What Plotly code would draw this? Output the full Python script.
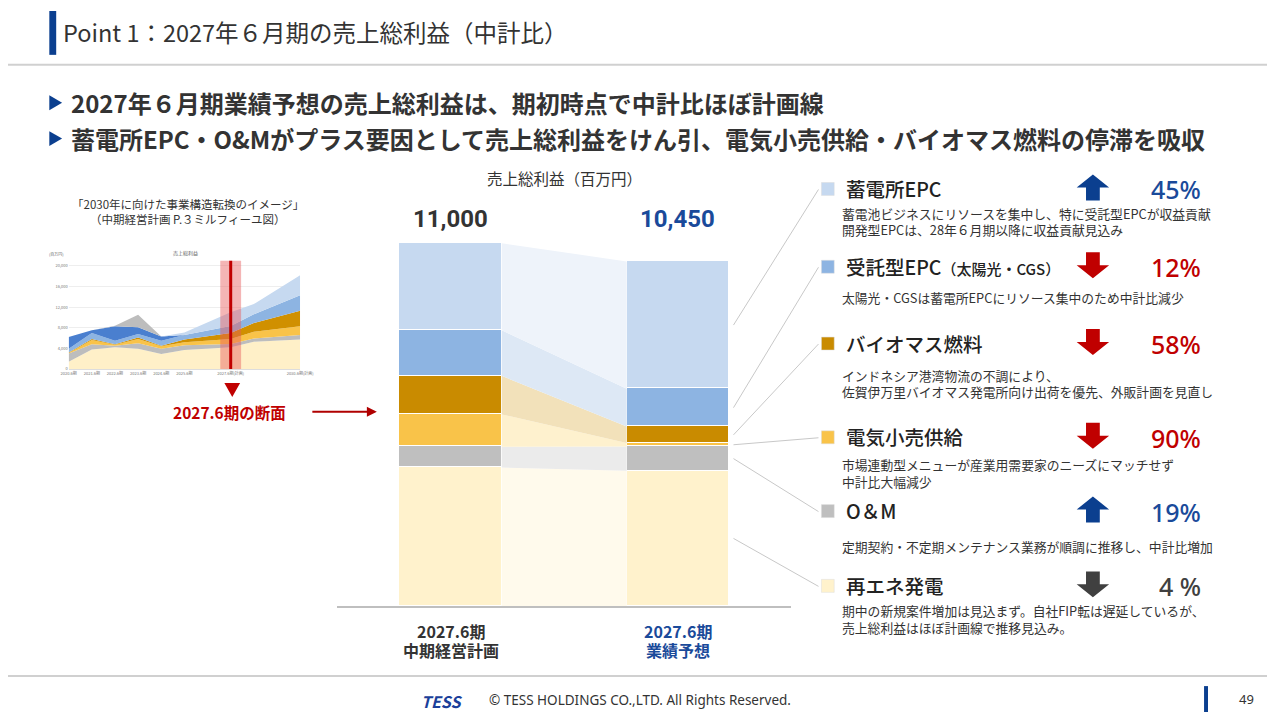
import plotly.graph_objects as go

W, H = 1280, 720
FONT = "Noto Sans CJK JP"
DARK = "#333333"
BLUE = "#1A4A9A"
RED = "#C00000"

# --- main chart data (百万円), stacked bottom -> top ---
segments = ["再エネ発電", "O&M", "電気小売供給", "バイオマス燃料", "受託型EPC", "蓄電所EPC"]
plan_2027 = [4200, 630, 980, 1170, 1380, 2640]
forecast_2027 = [4100, 740, 100, 500, 1150, 3860]
bar_colors = ["#FFF2CC", "#BFBFBF", "#F9C349", "#C98B00", "#8DB4E2", "#C6D9F0"]
ribbon_colors = ["#FFFAEC", "#EBEBEB", "#FEF1CE", "#F2E1BA", "#DDE8F5", "#EEF3FA"]
categories = ["2027.6期<br>中期経営計画", "2027.6期<br>業績予想"]
category_colors = [DARK, BLUE]

# --- right panel, top -> bottom ---
item_titles = ["蓄電所EPC", "受託型EPC<span style='font-size:15px'>（太陽光・CGS）</span>",
               "バイオマス燃料", "電気小売供給", "O＆M", "再エネ発電"]
item_desc = [
    ["蓄電池ビジネスにリソースを集中し、特に受託型EPCが収益貢献", "開発型EPCは、28年６月期以降に収益貢献見込み"],
    ["太陽光・CGSは蓄電所EPCにリソース集中のため中計比減少"],
    ["インドネシア港湾物流の不調により、", "佐賀伊万里バイオマス発電所向け出荷を優先、外販計画を見直し"],
    ["市場連動型メニューが産業用需要家のニーズにマッチせず", "中計比大幅減少"],
    ["定期契約・不定期メンテナンス業務が順調に推移し、中計比増加"],
    ["期中の新規案件増加は見込まず。自社FIP転は遅延しているが、", "売上総利益はほぼ計画線で推移見込み。"],
]
item_pct = ["45%", "12%", "58%", "90%", "19%", "4 %"]
item_dir = ["up", "down", "down", "down", "up", "flat"]

# --- mini chart (ミルフィーユ図) data (百万円) ---
mini_years = [2020, 2021, 2022, 2023, 2024, 2025, 2027, 2028, 2030]
mini_renew = [1400, 3800, 4200, 3900, 2900, 3700, 4200, 5300, 5700]
mini_om = [1600, 1000, 300, 1100, 1000, 900, 630, 600, 900]
mini_retail = [100, 800, 200, 800, 500, 600, 980, 1300, 1700]
mini_bio = [100, 200, 100, 300, 100, 500, 1170, 1700, 3000]
mini_contract = [700, 1200, 700, 700, 1000, 900, 1380, 1700, 3000]
mini_solar = [2300, 500, 2800, 1300, 800, 0, 0, 0, 0]
mini_storage = [0, 0, 0, 0, 0, 500, 2640, 2000, 3900]
mini_other = [0, 0, 100, 2400, 0, 0, 0, 0, 0]
mini_ticks = [2020, 2021, 2022, 2023, 2024, 2025, 2027, 2030]
mini_ticktext = ["2020.6期", "2021.6期", "2022.6期", "2023.6期", "2024.6期", "2025.6期",
                 "2027.6期(計画)", "2030.6期(計画)"]


def px(x):
    return x / W


def py(y):
    return 1 - y / H


def poly(pts):
    return "M " + " L ".join(f"{px(a):.5f},{py(b):.5f}" for a, b in pts) + " Z"


# main axes geometry
XR = (-0.5, 1.5)
YR = (0, 12000)
XD = (px(334.5), px(796.5))
YD = (py(607.7), py(210.9))
BW = 0.45


def xd2p(v):
    return XD[0] + (v - XR[0]) / (XR[1] - XR[0]) * (XD[1] - XD[0])


def yd2p(v):
    return YD[0] + (v - YR[0]) / (YR[1] - YR[0]) * (YD[1] - YD[0])


def stack(vals):
    out, s = [], 0
    for v in vals:
        out.append((s, s + v))
        s += v
    return out


fig = go.Figure()

plan_st = stack(plan_2027)
fc_st = stack(forecast_2027)

# ribbons between bars
for i, name in enumerate(segments):
    l0, l1 = plan_st[i]
    r0, r1 = fc_st[i]
    fig.add_trace(go.Scatter(
        x=[BW / 2, BW / 2, 1 - BW / 2, 1 - BW / 2, BW / 2],
        y=[l0, l1, r1, r0, l0],
        fill="toself", fillcolor=ribbon_colors[i], mode="lines",
        line=dict(width=0), hoverinfo="skip", showlegend=False,
    ))

for i, name in enumerate(segments):
    fig.add_trace(go.Bar(
        x=[0, 1], y=[plan_2027[i], forecast_2027[i]], width=BW, name=name,
        marker=dict(color=bar_colors[i], line=dict(color="white", width=1.5)),
        showlegend=False,
    ))

# mini stacked area chart
mini_series = [
    (mini_renew, "#FFF0C8"), (mini_om, "#BDBDBD"), (mini_retail, "#F9C349"),
    (mini_bio, "#D09000"), (mini_contract, "#8DB4E2"), (mini_solar, "#4A7FCF"),
    (mini_storage, "#C6D9F0"), (mini_other, "#BDBDBD"),
]
for vals, col in mini_series:
    fig.add_trace(go.Scatter(
        x=mini_years, y=vals, stackgroup="mini", mode="none", fillcolor=col,
        xaxis="x2", yaxis="y2", showlegend=False, hoverinfo="skip",
    ))

ann = []
shapes = []

# header
shapes.append(dict(type="rect", xref="paper", yref="paper", x0=px(42), x1=px(49), y0=py(55), y1=py(11),
                   fillcolor="#0B3F8F", line=dict(width=0)))
shapes.append(dict(type="line", xref="paper", yref="paper", x0=0, x1=1, y0=py(65), y1=py(65),
                   line=dict(color="#D0D0D0", width=2)))
ann.append(dict(x=px(54), y=py(32), text="Point 1：2027年６月期の売上総利益（中計比）",
                font=dict(size=23.5, color=DARK)))
bullets = ["2027年６月期業績予想の売上総利益は、期初時点で中計比ほぼ計画線",
           "蓄電所EPC・O&Mがプラス要因として売上総利益をけん引、電気小売供給・バイオマス燃料の停滞を吸収"]
for b, yy in zip(bullets, [103, 139]):
    shapes.append(dict(type="path", xref="paper", yref="paper",
                       path=poly([(42, yy - 7.5), (55, yy), (42, yy + 7.5)]),
                       fillcolor="#0B3F8F", line=dict(width=0)))
    ann.append(dict(x=px(62), y=py(yy), text="<b>" + b + "</b>", font=dict(size=24, color=DARK)))

# footer
shapes.append(dict(type="line", xref="paper", yref="paper", x0=0, x1=1, y0=py(678), y1=py(678),
                   line=dict(color="#D0D0D0", width=2)))
ann.append(dict(x=px(418), y=py(703), text="<b><i>TESS</i></b>", font=dict(size=16, color="#1B3F9A")))
ann.append(dict(x=px(487), y=py(702), text="© TESS HOLDINGS CO.,LTD. All Rights Reserved.",
                font=dict(size=13.5, color=DARK, family="Noto Sans")))
shapes.append(dict(type="rect", xref="paper", yref="paper", x0=px(1216), x1=px(1220), y0=py(714), y1=py(688),
                   fillcolor="#0B3F8F", line=dict(width=0)))
ann.append(dict(x=px(1250), y=py(701), text="49", font=dict(size=13, color=DARK, family="Noto Sans")))

# main chart texts
ann.append(dict(x=xd2p(0.5), y=py(178), text="売上総利益（百万円）", xanchor="center",
                font=dict(size=15.5, color=DARK)))
totals = [sum(plan_2027), sum(forecast_2027)]
for i, (t, c) in enumerate(zip(totals, category_colors)):
    ann.append(dict(x=xd2p(i), y=py(220), text=f"<b>{t:,}</b>", xanchor="center",
                    font=dict(size=24, color=c, family="Roboto")))
    for j, line in enumerate(categories[i].split("<br>")):
        ann.append(dict(x=xd2p(i), y=py(633 + 19 * j), text=f"<b>{line}</b>", xanchor="center",
                        font=dict(size=16, color=c)))

# right panel
item_y = [189, 267, 344, 438, 512, 587]
desc_y = [[214, 230.5], [298], [376.5, 393], [466, 482.5], [548], [612.5, 629]]
stack_order = list(range(len(segments)))[::-1]
for k, seg_i in enumerate(stack_order):
    yy = item_y[k]
    col = bar_colors[seg_i]
    shapes.append(dict(type="rect", xref="paper", yref="paper", x0=px(827), x1=px(840),
                       y0=py(yy + 7), y1=py(yy - 6), fillcolor=col, line=dict(color="#DDDDDD", width=0.5)))
    ann.append(dict(x=px(850), y=py(yy), text=item_titles[k],
                    font=dict(size=19.5, color="#222222", weight=500)))
    for line, ly in zip(item_desc[k], desc_y[k]):
        ann.append(dict(x=px(846), y=py(ly), text=line, font=dict(size=12.8, color=DARK)))
    d = item_dir[k]
    pct_col = BLUE if d == "up" else (RED if d == "down" else "#404040")
    ann.append(dict(x=px(1215), y=py(yy + 1), text=item_pct[k], xanchor="right",
                    font=dict(size=25, color=pct_col, family="Noto Sans", weight=500)))
    # block arrow icon
    cx, cy, aw, ah, hh, sw = 1103, yy - 1, 33, 26, 13, 14
    top, bot = cy - ah / 2, cy + ah / 2
    if d == "up":
        pts = [(cx, top), (cx + aw / 2, top + hh), (cx + sw / 2, top + hh), (cx + sw / 2, bot),
               (cx - sw / 2, bot), (cx - sw / 2, top + hh), (cx - aw / 2, top + hh)]
        acol = "#0B3F8F"
    else:
        pts = [(cx, bot), (cx + aw / 2, bot - hh), (cx + sw / 2, bot - hh), (cx + sw / 2, top),
               (cx - sw / 2, top), (cx - sw / 2, bot - hh), (cx - aw / 2, bot - hh)]
        acol = RED if d == "down" else "#404040"
    shapes.append(dict(type="path", xref="paper", yref="paper", path=poly(pts), fillcolor=acol,
                       line=dict(width=0)))
    # leader line from forecast bar segment
    lo, hi = fc_st[seg_i]
    shapes.append(dict(type="line", xref="paper", yref="paper",
                       x0=xd2p(1 + BW / 2 + 0.02), y0=yd2p((lo + hi) / 2),
                       x1=px(824), y1=py(yy + 1), line=dict(color="#C8C8C8", width=1)))

# left panel texts
ann.append(dict(x=px(183), y=py(205), text="「2030年に向けた事業構造転換のイメージ」", xanchor="center",
                font=dict(size=11.5, color=DARK)))
ann.append(dict(x=px(183), y=py(220), text="（中期経営計画 P.３ミルフィーユ図）", xanchor="center",
                font=dict(size=11.5, color=DARK)))
ann.append(dict(x=px(180), y=py(254), text="売上総利益", xanchor="center", font=dict(size=5, color="#666")))
ann.append(dict(x=px(40), y=py(255), text="(百万円)", font=dict(size=4, color="#666")))
shapes.append(dict(type="path", xref="paper", yref="paper",
                   path=poly([(220, 384), (236, 384), (228, 398)]), fillcolor=RED, line=dict(width=0)))
ann.append(dict(x=px(225), y=py(413), text="<b>2027.6期の断面</b>", xanchor="center",
                font=dict(size=15.5, color=RED)))
ann.append(dict(x=px(375), y=py(413), ax=-68, ay=0, text="", showarrow=True, arrowhead=2,
                arrowsize=1, arrowwidth=2, arrowcolor="#B00000", xanchor="left"))

# 2027 marker on mini chart
shapes.append(dict(type="rect", xref="x2", yref="y2 domain", x0=2026.55, x1=2027.45, y0=0, y1=1,
                   fillcolor="rgba(230,90,90,0.45)", line=dict(width=0)))
shapes.append(dict(type="line", xref="x2", yref="y2 domain", x0=2027, x1=2027, y0=0, y1=1,
                   line=dict(color="#C00000", width=3)))

for a in ann:
    a.setdefault("xref", "paper")
    a.setdefault("yref", "paper")
    a.setdefault("showarrow", False)
    a.setdefault("xanchor", "left")
    a.setdefault("yanchor", "middle")
    a.setdefault("align", "left" if a["xanchor"] == "left" else "center")

fig.update_layout(
    width=W, height=H, margin=dict(l=0, r=0, t=0, b=0),
    paper_bgcolor="white", plot_bgcolor="white",
    font=dict(family=FONT, color=DARK),
    barmode="stack", bargap=0,
    xaxis=dict(domain=list(XD), range=list(XR), showline=True, linecolor="#BFBFBF", linewidth=1.5,
               showticklabels=False, ticks="", showgrid=False, zeroline=False, fixedrange=True),
    yaxis=dict(domain=list(YD), range=list(YR), visible=False, fixedrange=True),
    xaxis2=dict(domain=[px(61.7), px(297)], range=[2020, 2030], anchor="y2",
                tickvals=mini_ticks, ticktext=mini_ticktext, tickfont=dict(size=4, color="#777"),
                showgrid=False, zeroline=False, showline=True, linecolor="#DDDDDD", ticks=""),
    yaxis2=dict(domain=[py(370), py(261.5)], range=[0, 21000], anchor="x2",
                tickvals=[0, 4000, 8000, 12000, 16000, 20000], tickformat=",",
                tickfont=dict(size=4, color="#777"), gridcolor="#EEEEEE", zeroline=False, ticks=""),
    annotations=ann, shapes=shapes,
)

fig.write_html("out.html", config={"displayModeBar": False},
               post_script="document.body.style.margin='0';document.body.style.overflow='hidden';"
                           "document.documentElement.style.overflow='hidden';")
